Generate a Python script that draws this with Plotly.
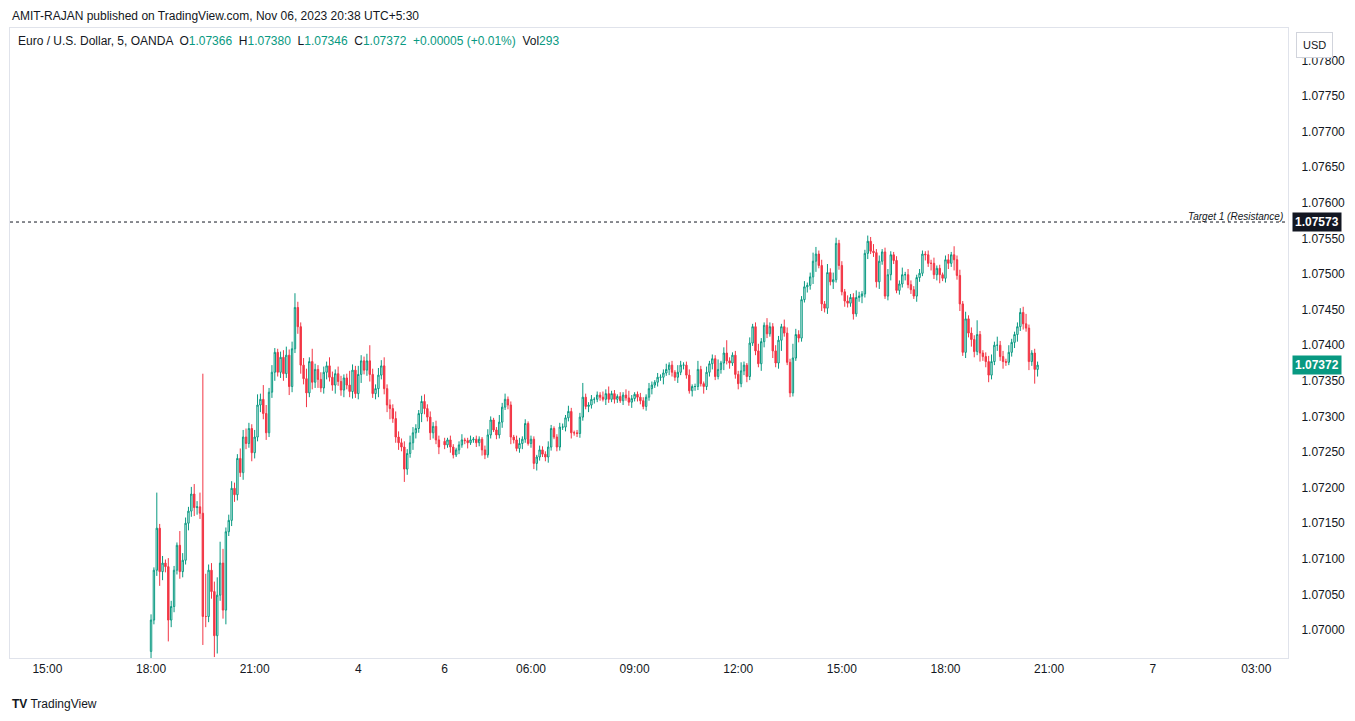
import plotly.graph_objects as go

# EURUSD 5m, OANDA - Friday Nov 3 evening and Monday Nov 6 (IST)
fri_open = 1.06970
fri_close = [
    1.07014, 1.07084, 1.07143, 1.07082, 1.07094, 1.07089, 1.07014, 1.07033, 1.07084, 1.07119,
    1.07082, 1.07098, 1.07150, 1.07167, 1.07191, 1.07172, 1.07173, 1.07164, 1.07019, 1.07019,
    1.07084, 1.07054, 1.06992, 1.07049, 1.07094, 1.07028, 1.07138, 1.07154, 1.07199, 1.07190,
    1.07241, 1.07221, 1.07271, 1.07262, 1.07283, 1.07249, 1.07271, 1.07316, 1.07324, 1.07304,
    1.07277, 1.07334, 1.07362, 1.07390, 1.07362, 1.07383, 1.07360, 1.07386, 1.07342, 1.07395,
    1.07453, 1.07426, 1.07372, 1.07353, 1.07333, 1.07377, 1.07348, 1.07366, 1.07352, 1.07340,
    1.07362, 1.07371, 1.07355, 1.07344, 1.07360, 1.07349, 1.07337, 1.07354,
    1.07344, 1.07335, 1.07365, 1.07332, 1.07359, 1.07378, 1.07365, 1.07378, 1.07359, 1.07332,
    1.07339, 1.07358, 1.07371, 1.07339, 1.07316, 1.07311, 1.07297, 1.07271, 1.07263, 1.07257,
    1.07226, 1.07248, 1.07263, 1.07277, 1.07283, 1.07304, 1.07321, 1.07311, 1.07299, 1.07277,
    1.07286, 1.07267, 1.07257,
]
fri_wick_up = [
    8, 4, 50, 6, 10, 5, 12, 8, 6, 4, 20, 10, 8, 6, 10, 14, 8, 20, 196, 60,
    8, 10, 14, 25, 30, 20, 6, 8, 10, 8, 6, 14, 10, 12, 8, 6, 10, 15, 8, 20,
    12, 6, 10, 6, 5, 8, 10, 12, 8, 10, 20, 8, 6, 10, 14, 6, 18, 8, 6, 10,
    8, 6, 12, 8, 6, 10, 8, 5, 6, 20, 8, 6, 12, 8, 6, 10, 22, 8, 6, 10,
    8, 12, 6, 8, 6, 10, 8, 6, 8, 6, 10, 8, 6, 5, 8, 10, 6, 8, 6, 8, 6,
]
fri_wick_dn = [
    10, 6, 8, 20, 12, 8, 30, 10, 8, 6, 10, 8, 6, 10, 8, 12, 10, 8, 40, 15,
    8, 10, 30, 25, 8, 12, 20, 6, 8, 10, 8, 6, 10, 8, 6, 12, 8, 6, 10, 8,
    10, 6, 8, 12, 6, 8, 10, 6, 12, 8, 6, 10, 12, 8, 20, 6, 10, 8, 12, 6,
    8, 10, 6, 8, 12, 6, 8, 10, 6, 8, 10, 6, 8, 12, 6, 8, 10, 6, 8, 12,
    6, 8, 10, 15, 6, 8, 10, 6, 18, 8, 6, 10, 8, 6, 12, 8, 6, 10, 8, 6, 10,
]

mon_open = 1.07265
mon_close = [
    1.07260, 1.07267, 1.07257, 1.07246, 1.07253, 1.07260, 1.07267, 1.07266, 1.07263, 1.07267,
    1.07268, 1.07263, 1.07268, 1.07253, 1.07246, 1.07274, 1.07295, 1.07281, 1.07274, 1.07292,
    1.07313, 1.07324, 1.07316, 1.07271, 1.07267, 1.07255, 1.07262, 1.07268, 1.07290, 1.07262,
    1.07268, 1.07234, 1.07243, 1.07253, 1.07247, 1.07243, 1.07257, 1.07283, 1.07271, 1.07257,
    1.07285, 1.07285, 1.07298, 1.07307, 1.07277, 1.07277, 1.07276, 1.07299, 1.07327, 1.07314,
    1.07316, 1.07324, 1.07324, 1.07330, 1.07327, 1.07324, 1.07332, 1.07324, 1.07332, 1.07324,
    1.07328, 1.07322, 1.07330, 1.07326, 1.07320, 1.07325, 1.07331, 1.07327, 1.07322,
    1.07314, 1.07327, 1.07339, 1.07344, 1.07348, 1.07355, 1.07355, 1.07361, 1.07366, 1.07372,
    1.07362, 1.07355, 1.07362, 1.07372, 1.07372, 1.07358, 1.07336, 1.07342, 1.07342, 1.07366,
    1.07346, 1.07342, 1.07362, 1.07374, 1.07381, 1.07356, 1.07366, 1.07375, 1.07389, 1.07378,
    1.07375, 1.07386, 1.07359, 1.07346, 1.07364, 1.07372, 1.07356, 1.07403, 1.07426, 1.07392,
    1.07374, 1.07405, 1.07428, 1.07416,
    1.07426, 1.07392, 1.07375, 1.07407, 1.07426, 1.07417, 1.07376, 1.07333, 1.07382, 1.07415,
    1.07410, 1.07464, 1.07482, 1.07484, 1.07496, 1.07518, 1.07528, 1.07512, 1.07458, 1.07452,
    1.07502, 1.07489, 1.07492, 1.07543, 1.07512, 1.07475, 1.07462, 1.07459, 1.07467, 1.07444,
    1.07467, 1.07469, 1.07472, 1.07529, 1.07546, 1.07532, 1.07530, 1.07489, 1.07518, 1.07531,
    1.07469, 1.07499, 1.07527, 1.07519, 1.07477, 1.07486, 1.07499, 1.07499, 1.07485, 1.07478,
    1.07469, 1.07495, 1.07501, 1.07528, 1.07527, 1.07515, 1.07515, 1.07499, 1.07508, 1.07499,
    1.07494, 1.07520, 1.07515, 1.07527, 1.07520, 1.07498, 1.07458, 1.07390, 1.07437, 1.07417,
    1.07408, 1.07391, 1.07415, 1.07389, 1.07384, 1.07377, 1.07358, 1.07377, 1.07400, 1.07400,
    1.07384, 1.07377, 1.07376, 1.07390, 1.07404, 1.07415, 1.07426, 1.07446, 1.07430, 1.07424,
    1.07377, 1.07389, 1.07366, 1.07372,
]
mon_wick_up = [
    5, 3, 6, 4, 3, 5, 8, 3, 4, 6, 3, 5, 4, 3, 6, 8, 5, 3, 4, 10,
    6, 8, 4, 5, 3, 6, 8, 4, 6, 3, 5, 4, 3, 6, 5, 4, 8, 5, 3, 4,
    6, 5, 4, 8, 5, 3, 4, 6, 20, 5, 4, 6, 3, 5, 4, 8, 6, 10, 4, 5,
    3, 6, 4, 8, 10, 5, 3, 4, 6, 5, 4, 8, 5, 3, 6, 4, 5, 8, 4, 6,
    3, 10, 6, 4, 5, 8, 3, 4, 12, 5, 3, 8, 4, 6, 5, 14, 3, 8, 18, 5,
    4, 6, 5, 12, 5, 3, 8, 4, 6, 10, 5, 4, 10, 6, 5, 8, 6, 4, 10, 8,
    5, 20, 8, 6, 5, 8, 4, 6, 12, 10, 5, 8, 4, 12, 6, 10, 8, 5, 6, 4,
    8, 5, 6, 10, 6, 4, 5, 8, 6, 10, 5, 8, 4, 6, 8, 5, 4, 6, 5, 10,
    4, 8, 6, 5, 4, 6, 5, 4, 6, 5, 8, 4, 5, 3, 6, 8, 4, 12, 6, 8,
    4, 10, 5, 8, 6, 20, 5, 4, 6, 8, 10, 5, 12, 6, 8, 4, 10, 5, 4, 6,
    6, 8, 14, 5, 4, 6, 5,
]
mon_wick_dn = [
    6, 4, 8, 5, 3, 6, 4, 5, 8, 3, 4, 6, 5, 8, 6, 4, 5, 3, 6, 5,
    8, 4, 6, 10, 5, 4, 6, 8, 5, 3, 6, 8, 10, 5, 4, 6, 8, 5, 3, 6,
    5, 4, 6, 5, 8, 4, 5, 6, 5, 4, 8, 5, 6, 4, 5, 3, 8, 5, 4, 6,
    5, 3, 6, 4, 5, 8, 4, 6, 5, 4, 6, 5, 8, 4, 6, 5, 10, 4, 8, 6,
    5, 8, 4, 6, 5, 4, 8, 6, 5, 4, 10, 5, 6, 8, 5, 4, 6, 10, 5, 8,
    4, 6, 8, 5, 6, 8, 5, 4, 6, 5, 10, 8, 6, 4, 10, 6, 8, 15, 5, 4,
    6, 5, 4, 6, 5, 4, 8, 6, 10, 15, 4, 10, 6, 8, 5, 10, 4, 6, 5, 8,
    6, 5, 8, 4, 6, 10, 5, 8, 4, 6, 8, 10, 5, 4, 6, 8, 5, 4, 6, 5,
    8, 5, 6, 4, 8, 6, 4, 8, 5, 10, 6, 8, 12, 4, 6, 8, 5, 15, 6, 10,
    5, 8, 6, 10, 8, 5, 12, 6, 8, 10, 6, 5, 8, 6, 10, 5, 4, 6, 8, 10,
    6, 8, 5, 12, 6, 20, 10,
]

mon_start = 102  # Monday 03:30 sits right after Friday 02:25 on the compressed axis
tick_pos = [-36, 0, 36, 72, 102, 132, 168, 204, 240, 276, 312, 348, 384]
tick_text = ["15:00", "18:00", "21:00", "4", "6", "06:00", "09:00", "12:00",
             "15:00", "18:00", "21:00", "7", "03:00"]
y_ticks = [1.07000, 1.07050, 1.07100, 1.07150, 1.07200, 1.07250, 1.07300, 1.07350,
           1.07400, 1.07450, 1.07500, 1.07550, 1.07600, 1.07650, 1.07700, 1.07750, 1.07800]
target_price = 1.07573
last_price = 1.07372

GREEN = "#089981"
RED = "#F23645"


def build(open0, closes, wu, wd, start):
    xs, o, h, l, c = [], [], [], [], []
    prev = open0
    for i, cl in enumerate(closes):
        xs.append(start + i)
        o.append(prev)
        c.append(cl)
        h.append(round(max(prev, cl) + wu[i] / 1e5, 5))
        l.append(round(min(prev, cl) - wd[i] / 1e5, 5))
        prev = cl
    return xs, o, h, l, c


fx, fo, fh, fl, fc = build(fri_open, fri_close, fri_wick_up, fri_wick_dn, 0)
mx, mo, mh, ml, mc = build(mon_open, mon_close, mon_wick_up, mon_wick_dn, mon_start)

fig = go.Figure(go.Candlestick(
    x=fx + mx, open=fo + mo, high=fh + mh, low=fl + ml, close=fc + mc,
    increasing=dict(line=dict(color=GREEN, width=1), fillcolor="#ffffff"),
    decreasing=dict(line=dict(color=RED, width=1), fillcolor=RED),
    whiskerwidth=0, hoverinfo="skip", showlegend=False,
))

fig.add_shape(type="line", xref="paper", x0=0, x1=1, yref="y", y0=target_price, y1=target_price,
              line=dict(color="#131722", width=1, dash="dot"))

FONT = "Liberation Sans, Arial, sans-serif"
ann = [
    dict(x=0.0, y=1.0, xref="paper", yref="paper", xanchor="left", yanchor="bottom", yshift=3,
         text="AMIT-RAJAN published on TradingView.com, Nov 06, 2023 20:38 UTC+5:30",
         font=dict(size=12, color="#131722")),
    dict(x=0.005, y=0.993, xref="paper", yref="paper", xanchor="left", yanchor="top",
         text=("Euro / U.S. Dollar, 5, OANDA  O<span style='color:#089981'>1.07366</span>  "
               "H<span style='color:#089981'>1.07380</span>  L<span style='color:#089981'>1.07346</span>  "
               "C<span style='color:#089981'>1.07372</span>  <span style='color:#089981'>+0.00005 (+0.01%)</span>  "
               "Vol<span style='color:#089981'>293</span>"),
         font=dict(size=12, color="#131722")),
    dict(x=0.998, y=target_price, xref="paper", yref="y", xanchor="right", yanchor="bottom",
         text="<i>Target 1 (Resistance)</i>", font=dict(size=10, color="#131722"), yshift=-2),
    dict(x=1.0, y=target_price, xref="paper", yref="y", xanchor="left", xshift=4,
         text="<b>1.07573</b>", bgcolor="#131722", font=dict(size=12, color="#ffffff"), borderpad=2),
    dict(x=1.0, y=last_price, xref="paper", yref="y", xanchor="left", xshift=4,
         text="<b>1.07372</b>", bgcolor=GREEN, font=dict(size=12, color="#ffffff"), borderpad=2),
    dict(x=1.0, y=0.993, xref="paper", yref="paper", xanchor="left", yanchor="top", xshift=8,
         text="USD", bordercolor="#d1d4dc", borderwidth=1, borderpad=6, bgcolor="#ffffff",
         font=dict(size=11, color="#131722")),
    dict(x=0.0, y=0, xref="paper", yref="paper", xanchor="left", yanchor="top", yshift=-37,
         text="<b>TV</b> TradingView", font=dict(size=12, color="#131722")),
]
for a in ann:
    a["showarrow"] = False
    fig.add_annotation(**a)

# page body adds an 8px offset, so the figure is drawn 8px smaller and shifted
fig.update_layout(
    width=1347, height=713,
    margin=dict(l=2, r=67, t=20, b=63, autoexpand=False),
    paper_bgcolor="#ffffff", plot_bgcolor="#ffffff",
    font=dict(family=FONT, size=12, color="#131722"),
    xaxis=dict(range=[-49, 395], tickvals=tick_pos, ticktext=tick_text, showgrid=False,
               rangeslider=dict(visible=False), showline=True, linecolor="#e0e3eb",
               ticks="", zeroline=False, mirror=True),
    yaxis=dict(range=[1.069607, 1.078455], side="right", tickvals=y_ticks, tickformat=".5f",
               showgrid=False, showline=True, linecolor="#e0e3eb", ticks="", zeroline=False,
               mirror=True, ticklabelstandoff=10),
)

fig.write_html("out.html")
